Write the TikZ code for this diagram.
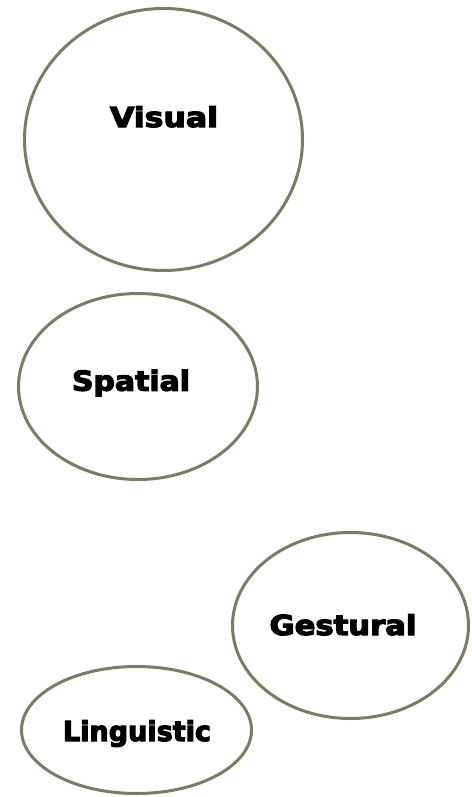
\documentclass[tikz,border=0pt]{standalone}
\usepackage{fontspec}
\setmainfont{DejaVu Sans}
\newfontfamily\heavyfont{DejaVu Sans Bold}[FakeBold=4]
\usetikzlibrary{shapes.geometric}
\definecolor{ringcol}{RGB}{115,128,100}
\newcommand{\fitword}[2]{\resizebox{#1}{\height}{#2}}
\begin{document}
\begin{tikzpicture}[x=1pt,y=-1pt,
  ring/.style={draw=ringcol,line width=3pt,ellipse,inner sep=0pt,fill=white},
  word/.style={font=\heavyfont\fontsize{27.5}{30}\selectfont,anchor=base,inner sep=0pt}]
\useasboundingbox (0,0) rectangle (471,797);
\node[ring,minimum width=278pt,minimum height=262pt] (visual) at (163.5,139.5) {};
\node[ring,minimum width=239pt,minimum height=186pt] (spatial) at (138,386.5) {};
\node[ring,minimum width=236pt,minimum height=186pt] (gestural) at (350.5,625.5) {};
\node[ring,minimum width=230pt,minimum height=127pt] (linguistic) at (136.5,730) {};
\node[word] (tvisual) at (164,127) {\fitword{108pt}{Visual}};
\node[word] (tspatial) at (131,390.7) {\fitword{118pt}{Spatial}};
\node[word] (tgestural) at (343,635) {\fitword{147pt}{Gestural}};
\node[word] (tlinguistic) at (137,741) {\fitword{148pt}{Linguistic}};
\end{tikzpicture}
\end{document}
